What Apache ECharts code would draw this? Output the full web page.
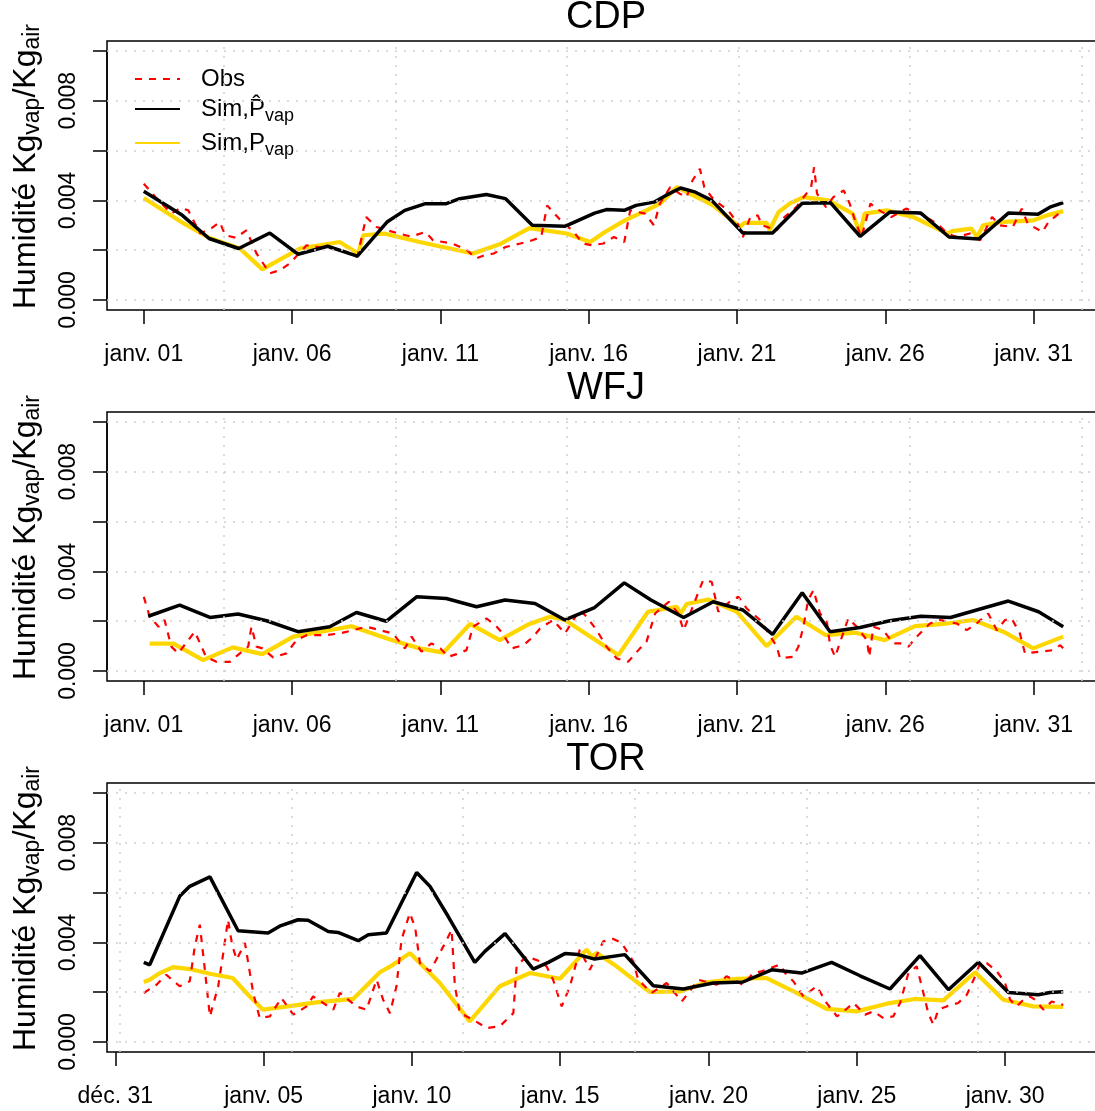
<!DOCTYPE html>
<html>
<head>
<meta charset="utf-8">
<title>Humidité CDP / WFJ / TOR</title>
<script src="https://cdn.jsdelivr.net/npm/echarts@6/dist/echarts.min.js"></script>
</head>
<body style="margin:0;background:#fff">
<div id="chart" style="width:1095px;height:1111px"></div>
<script>
// temps : jours depuis le 1er janvier 00h ; humidité en 1e-3 kg/kg
var stations = ['CDP', 'WFJ', 'TOR'];
var janvLabels = ['janv. 01', 'janv. 06', 'janv. 11', 'janv. 16', 'janv. 21', 'janv. 26', 'janv. 31', ''];
var decLabels = ['déc. 31', 'janv. 05', 'janv. 10', 'janv. 15', 'janv. 20', 'janv. 25', 'janv. 30', ''];
var firstTick = [0, 0, -0.96];
var gridDaysJan = [2.69, 8.48, 14.27, 20.05, 25.84, 31.63];
var gridDaysTor = [-0.81, 4.98, 10.77, 16.55, 22.34, 28.13];
var gridHum = [0, 2, 4, 6, 8, 10];

var cdpObs = [[0,4.67],[0.4,4.13],[0.93,3.47],[1.25,3.7],[1.5,3.6],[1.9,2.67],[2.3,2.9],[2.56,3.13],[2.75,2.6],[3.1,2.5],[3.46,2.8],[3.8,1.87],[4.25,1.07],[4.59,1.2],[4.92,1.47],[5.49,2.2],[6.0,2.1],[6.4,2.07],[6.8,1.95],[7.2,1.73],[7.5,3.33],[7.85,2.93],[8.2,2.8],[8.6,2.67],[9.0,2.55],[9.5,2.73],[9.75,2.4],[10.4,2.27],[10.9,2.0],[11.2,1.67],[11.5,1.8],[11.8,1.87],[12.2,2.13],[12.7,2.27],[13.1,2.4],[13.4,2.53],[13.6,3.8],[14.0,3.27],[14.5,2.73],[14.8,2.27],[15.1,2.2],[15.5,2.27],[15.85,2.53],[16.2,2.33],[16.4,3.6],[16.9,3.47],[17.2,3.0],[17.4,3.87],[17.75,4.53],[18.07,4.27],[18.3,4.13],[18.5,4.8],[18.75,5.27],[18.9,4.53],[19.15,4.13],[19.4,3.87],[19.7,3.6],[20.0,3.13],[20.2,2.53],[20.45,3.33],[20.7,3.4],[20.85,3.0],[21.35,2.8],[21.6,3.33],[22.0,3.73],[22.5,4.53],[22.6,5.33],[22.7,4.27],[23.0,3.73],[23.25,4.13],[23.6,4.4],[23.8,3.87],[24.0,3.13],[24.2,2.53],[24.5,3.87],[24.8,3.6],[25.2,3.33],[25.7,3.67],[26.2,3.45],[26.75,3.07],[27.1,2.67],[27.4,2.53],[27.85,2.67],[28.2,2.4],[28.6,3.33],[28.87,3.0],[29.3,2.93],[29.6,3.67],[29.8,3.07],[30.3,2.73],[30.5,3.13],[30.85,3.47],[31,3.53]];
var cdpSimHat = [[0,4.37],[1.3,3.4],[2.2,2.47],[3.2,2.07],[4.25,2.69],[5.2,1.84],[6.2,2.16],[7.2,1.76],[8.2,3.13],[8.8,3.6],[9.5,3.87],[10.2,3.87],[10.65,4.07],[11.55,4.24],[12.2,4.07],[13.1,3.0],[14.2,2.96],[15.2,3.49],[15.6,3.63],[16.2,3.6],[16.6,3.8],[17.2,3.93],[17.6,4.2],[18.1,4.5],[18.6,4.33],[19.15,4.0],[20.2,2.69],[21.2,2.69],[22.2,3.89],[23.15,3.91],[24.15,2.56],[25.15,3.53],[26.2,3.49],[27.15,2.53],[28.15,2.45],[29.15,3.49],[30.15,3.44],[30.55,3.73],[31,3.91]];
var cdpSim = [[0,4.1],[1.27,3.13],[2.2,2.5],[3.24,2.07],[4.0,1.23],[5.26,2.07],[6.6,2.33],[7.23,1.87],[7.4,2.6],[8.1,2.67],[9.3,2.33],[11.1,1.87],[12.0,2.24],[13.0,2.89],[14.26,2.67],[15.05,2.33],[15.55,2.73],[16.22,3.2],[16.95,3.6],[17.4,3.87],[17.97,4.53],[19.2,3.8],[20.1,2.93],[20.25,3.1],[21.0,3.1],[21.1,2.8],[21.4,3.53],[21.8,3.89],[22.25,4.13],[23.08,4.0],[23.9,3.47],[24.15,2.67],[24.3,3.47],[25.05,3.6],[25.95,3.33],[27.1,2.67],[27.25,2.77],[27.9,2.87],[28.1,2.53],[28.3,3.0],[28.87,3.13],[30.0,3.2],[30.45,3.4],[31,3.57]];

var wfjObs = [[0,2.98],[0.2,2.18],[0.5,1.78],[0.7,2.05],[0.93,0.98],[1.16,0.71],[1.5,1.24],[1.72,1.58],[2.1,0.57],[2.45,0.37],[2.9,0.37],[3.24,0.71],[3.52,0.98],[3.63,1.78],[3.8,0.98],[4.0,0.91],[4.36,0.55],[4.81,0.71],[5.15,1.24],[5.49,1.44],[6.16,1.44],[6.6,1.51],[7.06,1.64],[7.5,1.78],[7.96,1.64],[8.4,1.51],[8.8,0.91],[9.03,1.38],[9.36,0.78],[9.7,1.11],[10.0,0.91],[10.26,0.57],[10.55,0.68],[10.88,0.84],[11.1,1.78],[11.56,2.11],[11.9,1.78],[12.1,1.51],[12.4,0.91],[12.8,1.04],[13.13,1.38],[13.36,1.71],[13.8,2.05],[14.2,1.51],[14.7,2.45],[14.93,2.18],[15.27,1.64],[15.6,0.98],[15.94,0.51],[16.33,0.37],[16.73,0.91],[16.95,1.18],[17.24,2.31],[17.7,2.78],[18.02,2.31],[18.2,1.64],[18.64,2.98],[18.86,3.65],[19.15,3.58],[19.37,2.38],[19.82,2.85],[20.05,2.98],[20.33,2.51],[20.78,2.05],[21.0,1.64],[21.34,0.98],[21.45,0.51],[21.9,0.57],[22.07,0.98],[22.24,1.78],[22.4,2.85],[22.58,3.25],[22.8,2.31],[23.03,1.98],[23.14,1.04],[23.31,0.57],[23.5,1.24],[23.75,2.11],[24.04,1.78],[24.38,1.24],[24.46,0.57],[24.6,1.78],[24.93,1.64],[25.27,1.11],[25.5,1.11],[25.78,0.98],[26.06,1.38],[26.51,1.91],[26.85,2.05],[27.41,1.91],[27.75,1.64],[28.08,1.91],[28.47,2.31],[28.76,1.64],[29.04,2.05],[29.26,2.11],[29.54,1.51],[29.71,0.71],[30.22,0.78],[30.67,0.84],[30.9,1.04],[31,0.91]];
var wfjSimHat = [[0.15,2.2],[1.21,2.65],[2.23,2.15],[3.18,2.29],[4.14,2.02],[5.2,1.58],[6.27,1.78],[7.17,2.35],[8.18,2.0],[9.2,2.98],[10.2,2.91],[11.22,2.58],[12.18,2.85],[13.19,2.71],[14.2,2.05],[15.2,2.55],[16.2,3.54],[17.1,2.85],[18.2,2.15],[19.2,2.78],[20.2,2.45],[21.2,1.47],[22.2,3.14],[23.14,1.58],[24.15,1.75],[25.15,2.02],[26.2,2.2],[27.2,2.15],[28.14,2.47],[29.15,2.81],[30.17,2.38],[31,1.78]];
var wfjSim = [[0.2,1.1],[1.0,1.1],[2.0,0.44],[3.0,0.95],[4.0,0.68],[5.04,1.38],[7.0,1.8],[8.3,1.27],[9.3,0.91],[10.1,0.74],[11.0,1.89],[12.0,1.24],[13.0,1.89],[13.7,2.18],[14.2,2.05],[16.0,0.64],[17.0,2.38],[17.97,2.58],[18.1,2.31],[18.3,2.69],[19.03,2.87],[20.0,2.38],[21.0,1.0],[22.0,2.18],[23.0,1.44],[24.0,1.54],[24.98,1.24],[26.0,1.8],[26.96,1.89],[27.97,2.05],[28.98,1.58],[29.99,0.91],[31,1.38]];

var torObs = [[0,1.97],[0.43,2.3],[0.76,2.7],[1.21,2.24],[1.55,2.44],[1.72,3.84],[1.89,4.71],[2.05,3.0],[2.23,1.03],[2.51,2.24],[2.68,3.57],[2.84,4.91],[2.98,3.9],[3.13,3.31],[3.41,3.98],[3.69,1.97],[3.91,0.96],[4.25,1.03],[4.64,1.77],[5.04,1.1],[5.49,1.43],[5.71,1.83],[6.39,1.3],[6.61,1.97],[7.17,1.43],[7.51,1.3],[7.85,2.5],[8.07,1.7],[8.3,1.16],[8.52,2.24],[8.69,4.11],[8.97,5.18],[9.15,4.6],[9.31,3.17],[9.65,2.84],[10.1,3.84],[10.38,4.51],[10.49,2.24],[10.66,1.16],[11.1,0.9],[11.56,0.56],[12.0,0.63],[12.46,1.16],[12.57,3.04],[12.9,3.44],[13.36,3.24],[13.58,3.04],[13.8,2.5],[14.09,1.43],[14.37,2.24],[14.7,3.71],[15.04,2.9],[15.49,4.04],[15.83,4.14],[16.11,3.98],[16.5,3.24],[16.67,2.5],[17.12,1.97],[17.63,2.37],[18.14,1.63],[18.7,2.5],[19.32,2.3],[19.65,2.64],[20.2,2.3],[20.55,2.77],[20.83,2.84],[21.45,3.11],[21.62,2.77],[21.9,2.44],[22.24,1.83],[22.69,2.24],[23.02,1.57],[23.37,1.03],[23.53,1.16],[23.93,1.57],[24.32,1.1],[24.6,1.23],[24.94,0.96],[25.27,1.03],[25.5,1.57],[25.78,2.77],[26.06,3.04],[26.23,2.24],[26.45,1.16],[26.62,0.7],[26.79,1.3],[27.07,1.43],[27.46,1.57],[27.75,1.9],[28.03,2.64],[28.2,3.17],[28.42,3.17],[28.76,2.84],[29.04,2.37],[29.21,1.7],[29.43,1.43],[29.66,1.7],[29.88,1.83],[30.05,1.7],[30.33,1.3],[30.61,1.63],[30.9,1.5],[31,1.5]];
var torSimHat = [[0,3.2],[0.2,3.1],[1.21,5.85],[1.55,6.25],[2.23,6.63],[3.18,4.47],[4.19,4.38],[4.58,4.65],[5.2,4.91],[5.54,4.89],[6.22,4.44],[6.55,4.4],[7.23,4.07],[7.57,4.31],[8.18,4.38],[9.2,6.81],[9.65,6.25],[10.26,5.05],[11.16,3.2],[11.5,3.64],[12.18,4.35],[13.13,2.93],[13.64,3.2],[14.2,3.55],[14.65,3.51],[15.2,3.33],[16.22,3.51],[17.18,2.26],[18.19,2.13],[19.2,2.37],[20.2,2.41],[21.17,2.9],[22.18,2.77],[23.19,3.2],[24.15,2.66],[25.16,2.13],[26.17,3.47],[27.13,2.1],[28.14,3.2],[29.15,1.99],[30.16,1.9],[30.55,1.99],[31,2.02]];
var torSim = [[0,2.41],[0.2,2.5],[0.54,2.77],[0.99,3.01],[1.55,2.93],[2.23,2.74],[3.0,2.57],[3.46,1.97],[4.02,1.3],[5.04,1.46],[5.82,1.59],[7.06,1.73],[7.96,2.8],[8.4,3.1],[8.97,3.57],[9.42,3.04],[9.98,2.37],[10.99,0.83],[12.0,2.24],[13.02,2.77],[14.03,2.54],[14.93,3.71],[15.1,3.45],[15.27,3.57],[15.94,3.04],[17.06,2.01],[18.08,2.03],[18.98,2.4],[19.99,2.54],[21.0,2.57],[22.01,1.97],[23.02,1.33],[24.03,1.23],[25.05,1.54],[26.0,1.73],[26.96,1.67],[28.03,2.8],[28.98,1.7],[29.99,1.43],[31,1.41]];

var FONT = 'Liberation Sans, Arial, Helvetica, sans-serif';
var panelTops = [41, 412, 783];
var FL = 107, FW = 993, FH = 269;
var X0 = -1.24, X1 = 32.24;
var pxDay = FW / (X1 - X0);
var pxUnit = FH / 10.8;

var panels = [
  {obs: cdpObs, hat: cdpSimHat, sim: cdpSim, labels: janvLabels, vgrid: gridDaysJan},
  {obs: wfjObs, hat: wfjSimHat, sim: wfjSim, labels: janvLabels, vgrid: gridDaysJan},
  {obs: torObs, hat: torSimHat, sim: torSim, labels: decLabels, vgrid: gridDaysTor}
];

var richY = {
  h: {fontSize: 32, lineHeight: 36, color: '#000', fontFamily: FONT, padding: [0, 0, 0, 18]},
  b: {fontSize: 32, lineHeight: 36, color: '#000', fontFamily: FONT},
  s: {fontSize: 23, lineHeight: 18, verticalAlign: 'bottom', color: '#000', fontFamily: FONT}
};

var grids = [], xAxes = [], yAxes = [], series = [], graphics = [];

panels.forEach(function (p, i) {
  var T = panelTops[i];
  var t0 = firstTick[i];
  // cadre (boite R) + quadrillage pointille
  grids.push({left: FL, top: T, width: FW, height: FH, outerBoundsMode: 'none', containLabel: false,
    show: true, borderColor: '#000', borderWidth: 1.5, backgroundColor: 'transparent'});
  xAxes.push({gridIndex: 2 * i, type: 'value', min: X0, max: X1, show: false});
  yAxes.push({gridIndex: 2 * i, type: 'value', min: -0.4, max: 10.4, show: false});
  series.push({
    type: 'line', xAxisIndex: 2 * i, yAxisIndex: 2 * i, data: [], silent: true,
    markLine: {
      silent: true, symbol: ['none', 'none'], label: {show: false},
      lineStyle: {color: '#cfcfcf', type: [2, 7], width: 1.5},
      emphasis: {disabled: true},
      data: p.vgrid.map(function (d) { return {xAxis: d}; })
        .concat(gridHum.map(function (h) { return {yAxis: h}; }))
    }
  });

  // grille des donnees, axes visibles
  grids.push({left: FL + (t0 - X0) * pxDay, top: T + 0.4 * pxUnit, width: 35 * pxDay, height: 10 * pxUnit,
    outerBoundsMode: 'none', containLabel: false});
  xAxes.push({
    gridIndex: 2 * i + 1, type: 'value', min: t0, max: t0 + 35, interval: 5,
    offset: 0.4 * pxUnit,
    axisLine: {show: false, onZero: false},
    axisTick: {show: true, length: 14, lineStyle: {color: '#000', width: 1.5}},
    axisLabel: {
      margin: 33, fontSize: 23, color: '#000', fontFamily: FONT,
      formatter: function (v) { return p.labels[Math.round((v - t0) / 5)] || ''; }
    },
    splitLine: {show: false}
  });
  yAxes.push({
    gridIndex: 2 * i + 1, type: 'value', min: 0, max: 10, interval: 2, position: 'left',
    offset: (t0 - X0) * pxDay,
    axisLine: {show: true, onZero: false, lineStyle: {color: '#000', width: 1.5}},
    axisTick: {show: true, length: 14, lineStyle: {color: '#000', width: 1.5}},
    axisLabel: {
      rotate: 90, margin: 27, fontSize: 23, color: '#000', fontFamily: FONT,
      formatter: function (v) { return v % 4 === 0 ? (v / 1000).toFixed(3) : ''; }
    },
    splitLine: {show: false},
    name: '{h|Humidité Kg}{s|vap}{b|/Kg}{s|air}',
    nameLocation: 'middle', nameRotate: 90, nameGap: 63,
    nameTextStyle: {rich: richY}
  });

  series.push({
    name: 'Sim,Pvap', type: 'line', xAxisIndex: 2 * i + 1, yAxisIndex: 2 * i + 1,
    data: p.sim, symbol: 'none', lineStyle: {color: '#FFD700', width: 4.2}, itemStyle: {color: '#FFD700'}
  });
  series.push({
    name: 'Obs', type: 'line', xAxisIndex: 2 * i + 1, yAxisIndex: 2 * i + 1,
    data: p.obs, symbol: 'none', lineStyle: {color: '#FF0000', width: 2.2, type: [7, 7]}, itemStyle: {color: '#FF0000'}
  });
  series.push({
    name: 'Sim,P\u0302vap', type: 'line', xAxisIndex: 2 * i + 1, yAxisIndex: 2 * i + 1,
    data: p.hat, symbol: 'none', lineStyle: {color: '#000', width: 3.5}, itemStyle: {color: '#000'}
  });

  graphics.push({
    type: 'text', x: 606, y: T - 23,
    style: {text: stations[i], fontSize: 38, fontFamily: FONT, fill: '#000', align: 'center', verticalAlign: 'middle'}
  });
});

var chart = echarts.init(document.getElementById('chart'));
chart.setOption({
  animation: false,
  backgroundColor: '#fff',
  grid: grids,
  xAxis: xAxes,
  yAxis: yAxes,
  series: series,
  graphic: graphics,
  legend: {
    left: 129, top: 62, orient: 'vertical',
    itemWidth: 45, itemHeight: 14, itemGap: 6,
    itemStyle: {opacity: 0, borderWidth: 0},
    data: ['Obs', 'Sim,P\u0302vap', 'Sim,Pvap'],
    formatter: function (name) {
      if (name === 'Obs') return '{t|Obs}';
      return '{t|' + name.replace('vap', '') + '}{s|vap}';
    },
    textStyle: {
      rich: {
        t: {fontSize: 24, lineHeight: 32, color: '#000', fontFamily: FONT, padding: [0, 0, 0, 16]},
        s: {fontSize: 18, lineHeight: 14, verticalAlign: 'bottom', color: '#000', fontFamily: FONT}
      }
    }
  }
});
</script>
</body>
</html>
